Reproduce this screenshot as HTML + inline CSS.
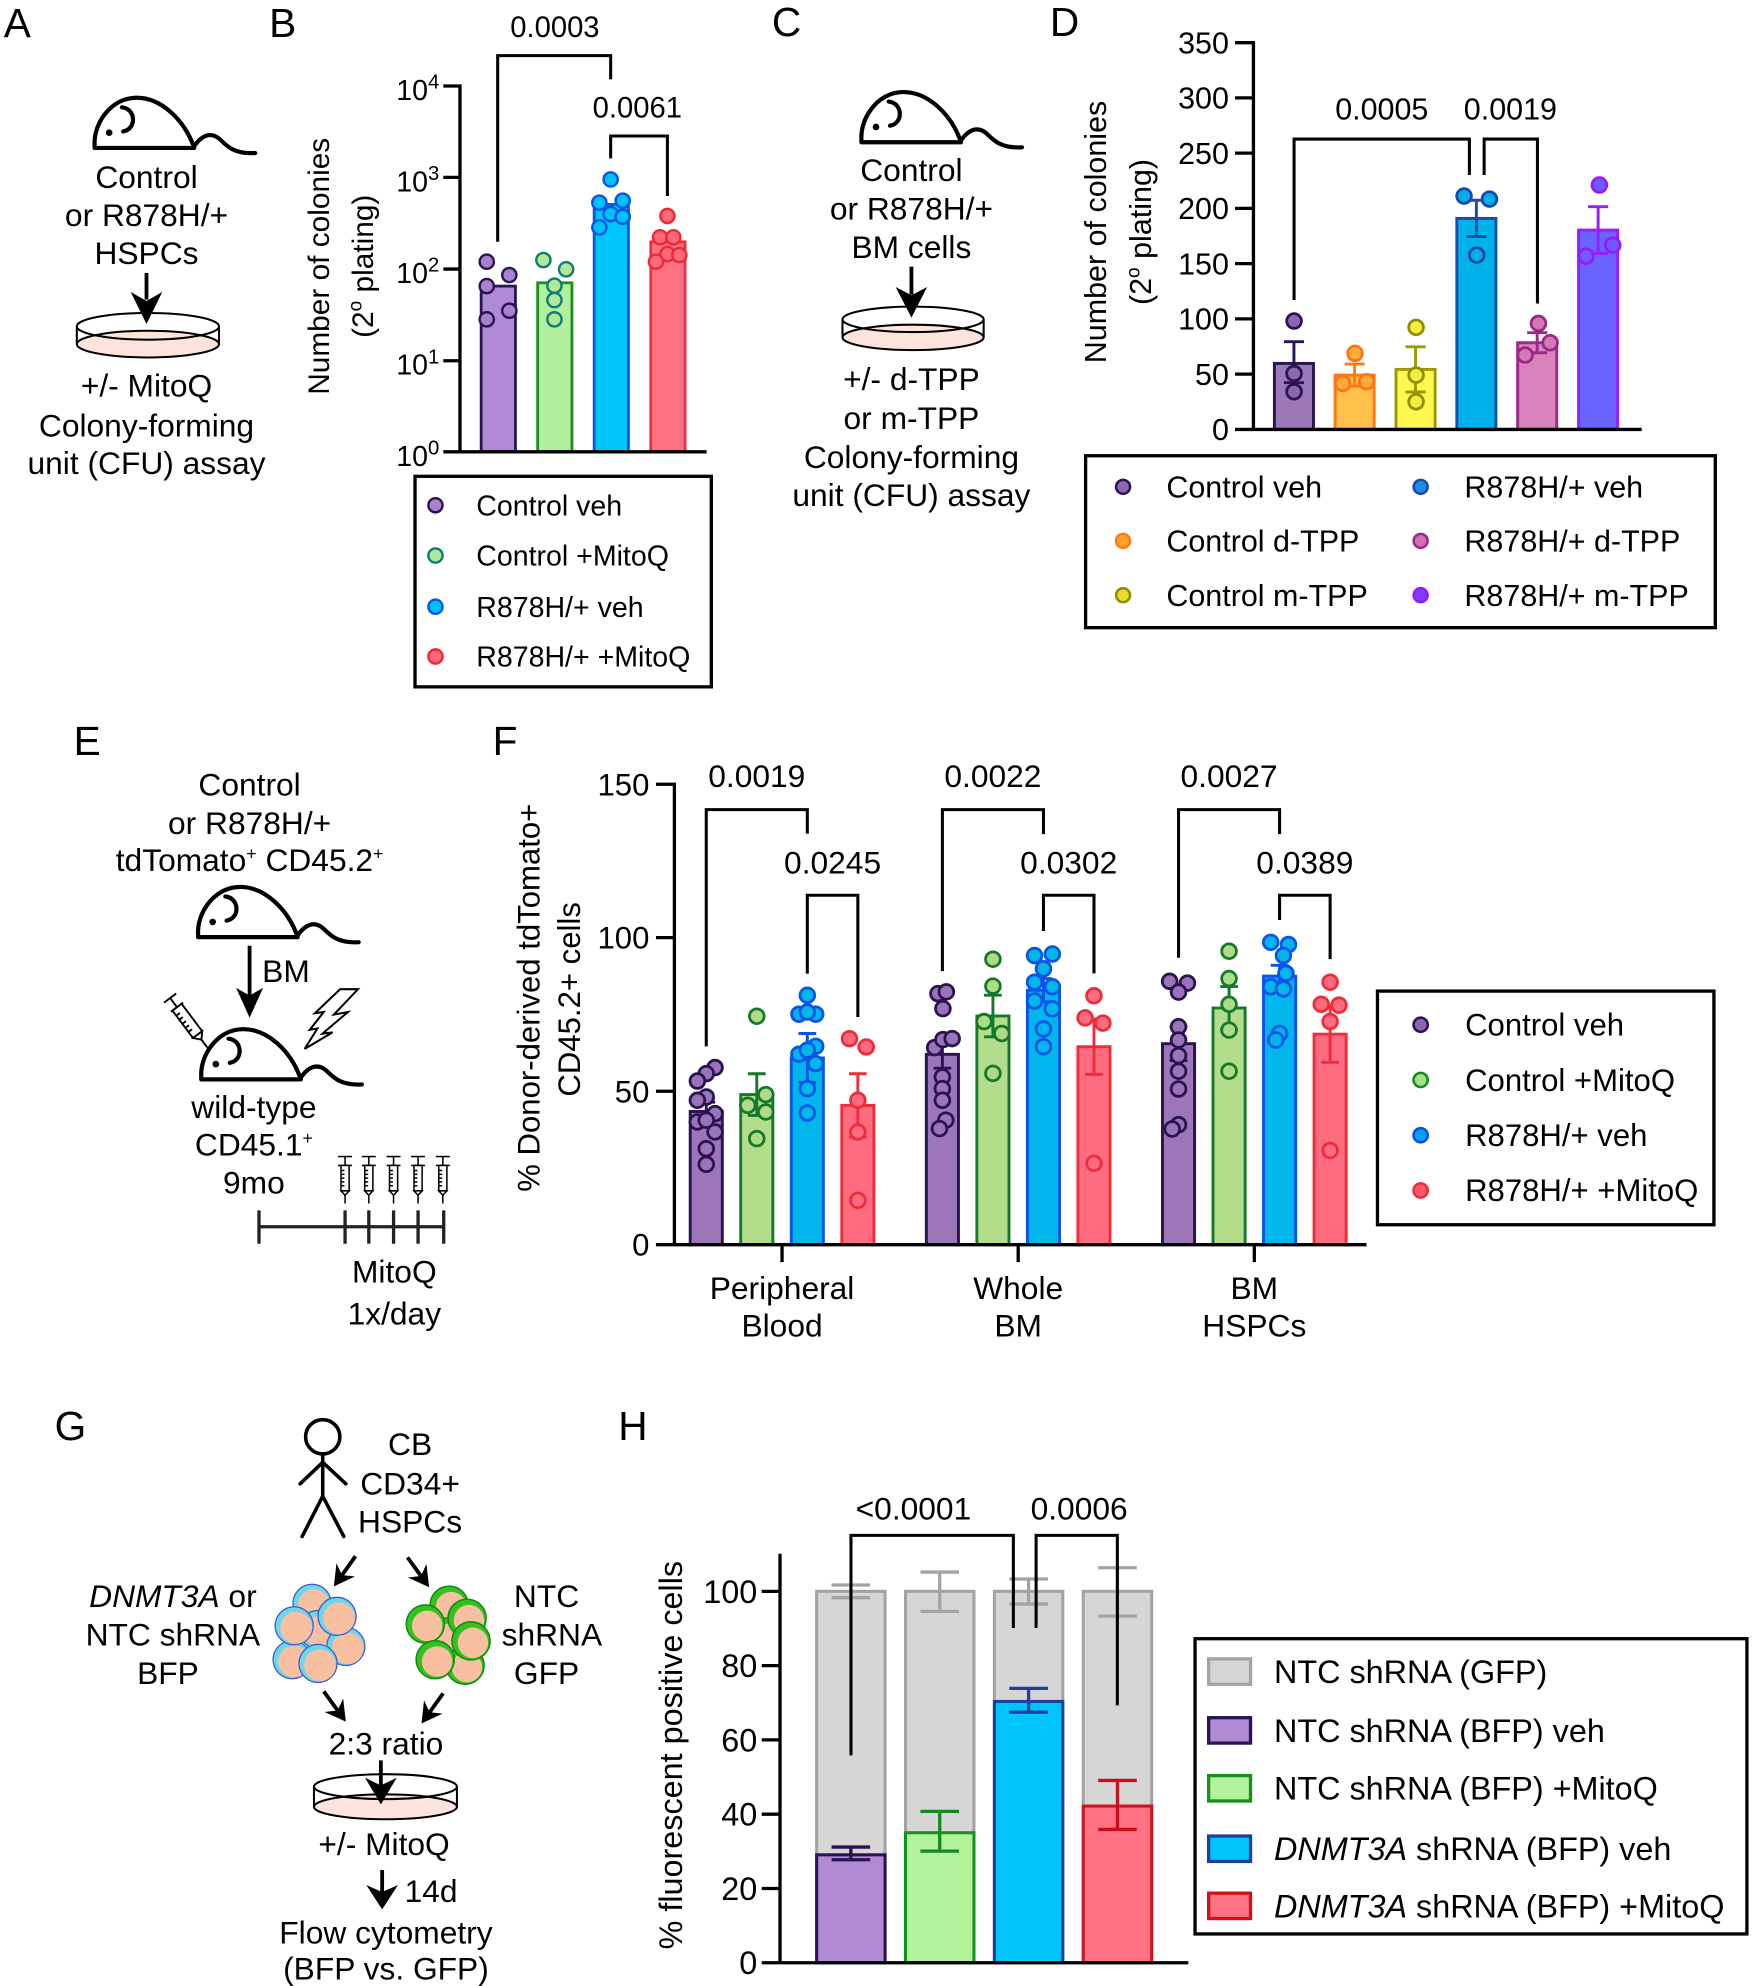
<!DOCTYPE html>
<html><head><meta charset="utf-8">
<style>
html,body{margin:0;padding:0;background:#fff;}
svg{display:block;}
text{font-family:"Liberation Sans",Arial,sans-serif;fill:#000;}
.ax{stroke:#000;stroke-width:2.6;fill:none;stroke-linecap:square;}
.br{stroke:#000;stroke-width:2.4;fill:none;}
.m{text-anchor:middle;}
.e{text-anchor:end;}
</style></head>
<body>
<svg width="1752" height="1986" viewBox="0 0 1380 1564" preserveAspectRatio="none" xmlns="http://www.w3.org/2000/svg">
<defs>
<g id="mouse" fill="none" stroke="#000" stroke-width="3.3" stroke-linejoin="round" stroke-linecap="round">
<path d="M1.5,40 L1.5,35 C2,19 15,1 34,0.5 C53,0 72,17 80,40 Z" fill="#fff"/>
<path d="M23,8 C34,9 35,25 24,27"/>
<circle cx="13" cy="28" r="2.6" fill="#000" stroke="none"/>
<path d="M80,38.5 C86,30 93,27 100,33 C106,39 112,45 128,44"/>
</g>
<g id="syr" fill="none" stroke="#000" stroke-width="1.2">
<line x1="-5.5" y1="0" x2="5.5" y2="0"/>
<line x1="0" y1="0" x2="0" y2="7"/>
<line x1="-5.5" y1="7" x2="5.5" y2="7"/>
<rect x="-3.2" y="7" width="6.4" height="20" fill="#fff"/>
<line x1="-3.2" y1="11" x2="-0.5" y2="11"/><line x1="-3.2" y1="14" x2="-0.5" y2="14"/><line x1="-3.2" y1="17" x2="-0.5" y2="17"/><line x1="-3.2" y1="20" x2="-0.5" y2="20"/><line x1="-3.2" y1="23" x2="-0.5" y2="23"/>
<polygon points="-3.2,27 0,30.5 3.2,27" fill="#fff"/>
<line x1="0" y1="30.5" x2="0" y2="37"/>
</g>
</defs>

<!-- ================= A ================= -->
<text x="3" y="29" font-size="32">A</text>
<use href="#mouse" transform="translate(73,76.5)"/>
<g font-size="25" class="m">
<text x="115.4" y="148" class="m">Control</text>
<text x="115.4" y="178" class="m">or R878H/+</text>
<text x="115.4" y="208" class="m">HSPCs</text>
<text x="115.4" y="312.4" class="m">+/- MitoQ</text>
<text x="115.4" y="343.9" class="m">Colony-forming</text>
<text x="115.4" y="373.3" class="m">unit (CFU) assay</text>
</g>
<g stroke="#000" stroke-width="1.6">
<ellipse cx="116.5" cy="271" rx="56" ry="10.5" fill="#fce4dc"/>
<line x1="60.5" y1="257" x2="60.5" y2="271"/><line x1="172.5" y1="257" x2="172.5" y2="271"/>
<ellipse cx="116.5" cy="257" rx="56" ry="10.5" fill="none"/>
</g>
<line x1="115.4" y1="215" x2="115.4" y2="236" stroke="#000" stroke-width="3"/>
<polygon points="103,230 115.4,237 127.8,230 115.4,255.2" fill="#000"/>

<!-- ================= B ================= -->
<text x="212" y="29" font-size="32">B</text>
<g font-size="23.5">
<text class="m" transform="rotate(-90 251.1 209.7)" x="251.1" y="209.7" dy="0.35em">Number of colonies</text>
<text class="m" transform="rotate(-90 285.7 209.7)" x="285.7" y="209.7" dy="0.35em">(2<tspan font-size="15" dy="-9">o</tspan><tspan dy="9"> plating)</tspan></text>
</g>
<g font-size="22.5">
<text x="346" y="78.7" class="e">10<tspan font-size="16" dy="-9">4</tspan></text>
<text x="346" y="150.7" class="e">10<tspan font-size="16" dy="-9">3</tspan></text>
<text x="346" y="222.9" class="e">10<tspan font-size="16" dy="-9">2</tspan></text>
<text x="346" y="295.1" class="e">10<tspan font-size="16" dy="-9">1</tspan></text>
<text x="346" y="366.8" class="e">10<tspan font-size="16" dy="-9">0</tspan></text>
</g>
<!-- bars B -->
<g stroke-width="2.2">
<rect x="379" y="225.3" width="27" height="130.5" fill="#b08ad6" stroke="#2b1452"/>
<rect x="423.5" y="222.7" width="27" height="133.1" fill="#b3f09e" stroke="#17921c"/>
<rect x="468" y="161" width="27" height="194.8" fill="#00c5fd" stroke="#0857e0"/>
<rect x="512.6" y="190.4" width="27" height="165.4" fill="#ff7283" stroke="#ec2f3a"/>
</g>
<g stroke-width="1.9">
<g fill="#a882d0" stroke="#2b1452">
<circle cx="383.4" cy="206.1" r="5.6"/><circle cx="401.2" cy="216.6" r="5.6"/><circle cx="383.4" cy="225.3" r="5.6"/><circle cx="401.2" cy="244.7" r="5.6"/><circle cx="383.4" cy="251.5" r="5.6"/>
</g>
<g fill="#b2e89a" stroke="#0d7d78">
<circle cx="428" cy="204.8" r="5.6"/><circle cx="445.9" cy="212.1" r="5.6"/><circle cx="436.7" cy="225" r="5.6"/><circle cx="436.7" cy="236.3" r="5.6"/><circle cx="436.7" cy="251.5" r="5.6"/>
</g>
<g fill="#00c0f8" stroke="#0a55e8">
<circle cx="481" cy="141.3" r="5.6"/><circle cx="472.1" cy="159.6" r="5.6"/><circle cx="490.5" cy="158" r="5.6"/><circle cx="481" cy="168.6" r="5.6"/><circle cx="490.5" cy="170.7" r="5.6"/><circle cx="472.1" cy="179.1" r="5.6"/>
</g>
<g fill="#ff6878" stroke="#ea2b36">
<circle cx="525.7" cy="170.1" r="5.6"/><circle cx="519.9" cy="186.9" r="5.6"/><circle cx="530.4" cy="186.9" r="5.6"/><circle cx="525.7" cy="200.1" r="5.6"/><circle cx="516.7" cy="206.1" r="5.6"/><circle cx="535.1" cy="200.9" r="5.6"/>
</g>
</g>
<path class="ax" d="M362.3,67.7 V355.8 M350.5,67.7 H362.3 M350.5,139.7 H362.3 M350.5,211.9 H362.3 M350.5,284.1 H362.3 M350.5,355.8 H555.3"/>
<polyline class="br" points="392,190.4 392,43.8 481,43.8 481,62.5"/>
<polyline class="br" points="481,124.7 481,107.1 525.7,107.1 525.7,154.4"/>
<text x="437.1" y="29.1" font-size="23" class="m">0.0003</text>
<text x="502" y="92.4" font-size="23" class="m">0.0061</text>
<rect x="326.9" y="375.1" width="233.4" height="165.8" fill="none" stroke="#000" stroke-width="2.6"/>
<g stroke-width="1.9">
<circle cx="343" cy="397.9" r="5.6" fill="#a882d0" stroke="#2b1452"/>
<circle cx="343" cy="437.5" r="5.6" fill="#b2e89a" stroke="#0d7d78"/>
<circle cx="343" cy="477.8" r="5.6" fill="#00c0f8" stroke="#0a55e8"/>
<circle cx="343" cy="517" r="5.6" fill="#ff6878" stroke="#ea2b36"/>
</g>
<g font-size="22.5">
<text x="375.1" y="405.9">Control veh</text>
<text x="375.1" y="445.5">Control +MitoQ</text>
<text x="375.1" y="485.8">R878H/+ veh</text>
<text x="375.1" y="525">R878H/+ +MitoQ</text>
</g>

<!-- ================= C ================= -->
<text x="608" y="28.5" font-size="32">C</text>
<use href="#mouse" transform="translate(677,72)"/>
<g font-size="25">
<text x="717.9" y="142.4" class="m">Control</text>
<text x="717.9" y="172.9" class="m">or R878H/+</text>
<text x="717.9" y="203.1" class="m">BM cells</text>
<text x="717.9" y="307.3" class="m">+/- d-TPP</text>
<text x="717.9" y="337.8" class="m">or m-TPP</text>
<text x="717.9" y="368.7" class="m">Colony-forming</text>
<text x="717.9" y="398.5" class="m">unit (CFU) assay</text>
</g>
<g stroke="#000" stroke-width="1.6">
<ellipse cx="719.2" cy="265.7" rx="55.6" ry="10" fill="#fce4dc"/>
<line x1="663.6" y1="251.5" x2="663.6" y2="265.7"/><line x1="774.8" y1="251.5" x2="774.8" y2="265.7"/>
<ellipse cx="719.2" cy="251.5" rx="55.6" ry="10" fill="none"/>
</g>
<line x1="717.9" y1="210" x2="717.9" y2="232" stroke="#000" stroke-width="3"/>
<polygon points="705.5,226 717.9,232.5 730.3,226 717.9,250.1" fill="#000"/>

<!-- ================= D ================= -->
<text x="827" y="28.5" font-size="32">D</text>
<g font-size="24">
<text class="m" transform="rotate(-90 862.7 182.7)" x="862.7" y="182.7" dy="0.35em">Number of colonies</text>
<text class="m" transform="rotate(-90 898.3 182.7)" x="898.3" y="182.7" dy="0.35em">(2<tspan font-size="15" dy="-9">o</tspan><tspan dy="9"> plating)</tspan></text>
<text x="968" y="42.1" class="e">350</text>
<text x="968" y="85.6" class="e">300</text>
<text x="968" y="129.1" class="e">250</text>
<text x="968" y="172.6" class="e">200</text>
<text x="968" y="216.1" class="e">150</text>
<text x="968" y="259.6" class="e">100</text>
<text x="968" y="303.1" class="e">50</text>
<text x="968" y="346.7" class="e">0</text>
</g>
<g stroke-width="2.3">
<rect x="1003.8" y="286.2" width="30.8" height="52" fill="#9b78b8" stroke="#2b1452"/>
<rect x="1051.6" y="295.4" width="30.8" height="42.8" fill="#ffc04c" stroke="#ff7a10"/>
<rect x="1099.6" y="290.9" width="30.8" height="47.3" fill="#fff850" stroke="#9a9a00"/>
<rect x="1147.5" y="172" width="30.8" height="166.2" fill="#00b2ec" stroke="#1d4aa8"/>
<rect x="1195.4" y="269.9" width="30.8" height="68.3" fill="#d883bb" stroke="#9c2a8a"/>
<rect x="1243.4" y="181.2" width="30.8" height="157" fill="#6764ff" stroke="#9a1cff"/>
</g>
<g stroke-width="2.3" fill="none">
<path d="M1019.2,269.1 V301.4 M1011.3,269.1 H1027.1 M1011.3,301.4 H1027.1" stroke="#2b1452"/>
<path d="M1067,286.7 V304.1 M1059.1,286.7 H1074.9 M1059.1,304.1 H1074.9" stroke="#ff7a10"/>
<path d="M1115,273.1 V308.7 M1107.1,273.1 H1122.9 M1107.1,308.7 H1122.9" stroke="#9a9a00"/>
<path d="M1162.9,157.7 V186.3 M1155,157.7 H1170.8 M1155,186.3 H1170.8" stroke="#1d4aa8"/>
<path d="M1210.8,262 V277.8 M1202.9,262 H1218.7 M1202.9,277.8 H1218.7" stroke="#9c2a8a"/>
<path d="M1258.8,162.8 V199.6 M1250.9,162.8 H1266.7 M1250.9,199.6 H1266.7" stroke="#9a1cff"/>
</g>
<g stroke-width="2.2">
<g fill="#8c68ac" stroke="#2b1452"><circle cx="1019.3" cy="252.8" r="5.8"/><circle cx="1019.3" cy="294.1" r="5.8"/><circle cx="1019.3" cy="308.5" r="5.8"/></g>
<g fill="#ffab3c" stroke="#ff7412"><circle cx="1067.3" cy="278.3" r="5.8"/><circle cx="1057.6" cy="302" r="5.8"/><circle cx="1076.5" cy="300.6" r="5.8"/></g>
<g fill="#f4ec40" stroke="#8f8f00"><circle cx="1115.4" cy="257.8" r="5.8"/><circle cx="1115.4" cy="295.4" r="5.8"/><circle cx="1115.4" cy="316.4" r="5.8"/></g>
<g fill="#00aee8" stroke="#1b48a8"><circle cx="1153.2" cy="154.4" r="5.8"/><circle cx="1173.2" cy="156.8" r="5.8"/><circle cx="1163.2" cy="200.9" r="5.8"/></g>
<g fill="#d27ab6" stroke="#9c2788"><circle cx="1211.8" cy="254.7" r="5.8"/><circle cx="1201.3" cy="279.6" r="5.8"/><circle cx="1221" cy="269.9" r="5.8"/></g>
<g fill="#6a5cff" stroke="#9a18ff"><circle cx="1259.8" cy="145.7" r="5.8"/><circle cx="1249.3" cy="201.7" r="5.8"/><circle cx="1270.3" cy="193" r="5.8"/></g>
</g>
<path class="ax" d="M987.3,33.6 V338.2 M974.1,33.6 H987.3 M974.1,77.1 H987.3 M974.1,120.6 H987.3 M974.1,164.1 H987.3 M974.1,207.6 H987.3 M974.1,251.1 H987.3 M974.1,294.6 H987.3 M974.1,338.2 H1291.8"/>
<polyline class="br" points="1019.3,236.3 1019.3,109.5 1157.4,109.5 1157.4,137.8"/>
<polyline class="br" points="1169,137.8 1169,109.5 1211,109.5 1211,239"/>
<text x="1088.4" y="94" font-size="24" class="m">0.0005</text>
<text x="1189.7" y="94" font-size="24" class="m">0.0019</text>
<rect x="855.1" y="358.9" width="496" height="135.4" fill="none" stroke="#000" stroke-width="2.6"/>
<g stroke-width="2">
<circle cx="884.6" cy="383.4" r="5.5" fill="#8c68ac" stroke="#2b1452"/>
<circle cx="884.6" cy="425.9" r="5.5" fill="#ffa030" stroke="#ff7a10"/>
<circle cx="884.6" cy="468.7" r="5.5" fill="#e4dc30" stroke="#8f8f00"/>
<circle cx="1119" cy="383.4" r="5.5" fill="#1a8fe0" stroke="#1b48a8"/>
<circle cx="1119" cy="425.9" r="5.5" fill="#d070b0" stroke="#9c2788"/>
<circle cx="1119" cy="468.7" r="5.5" fill="#7a3cff" stroke="#9a18ff"/>
</g>
<g font-size="24">
<text x="918.7" y="391.9">Control veh</text>
<text x="918.7" y="434.4">Control d-TPP</text>
<text x="918.7" y="477.2">Control m-TPP</text>
<text x="1153.5" y="391.9">R878H/+ veh</text>
<text x="1153.5" y="434.4">R878H/+ d-TPP</text>
<text x="1153.5" y="477.2">R878H/+ m-TPP</text>
</g>

<!-- ================= E ================= -->
<text x="58" y="594.7" font-size="32">E</text>
<g font-size="25">
<text x="196.6" y="626.4" class="m">Control</text>
<text x="196.6" y="656.8" class="m">or R878H/+</text>
<text x="196.6" y="685.9" class="m">tdTomato<tspan font-size="14" dy="-9">+</tspan><tspan dy="9"> CD45.2</tspan><tspan font-size="14" dy="-9">+</tspan></text>
<text x="206.5" y="773.5">BM</text>
<text x="200" y="880.3" class="m">wild-type</text>
<text x="200" y="910.1" class="m">CD45.1<tspan font-size="14" dy="-9">+</tspan></text>
<text x="200" y="939.9" class="m">9mo</text>
<text x="310.6" y="1010" class="m">MitoQ</text>
<text x="310.6" y="1043.2" class="m">1x/day</text>
</g>
<use href="#mouse" transform="translate(154.5,698)"/>
<use href="#mouse" transform="translate(157,810)"/>
<line x1="196.6" y1="744.8" x2="196.6" y2="784" stroke="#000" stroke-width="3"/>
<polygon points="186,778 196.6,784 207.2,778 196.6,801.5" fill="#000"/>
<!-- diagonal syringe -->
<g transform="translate(134,786) rotate(53)" fill="none" stroke="#000" stroke-width="1.5">
<line x1="0" y1="-6" x2="0" y2="6"/>
<line x1="0" y1="0" x2="9" y2="0"/>
<line x1="9" y1="-6" x2="9" y2="6"/>
<rect x="9" y="-4.5" width="27" height="9" fill="#fff"/>
<line x1="14" y1="1" x2="14" y2="4.5"/><line x1="18" y1="1" x2="18" y2="4.5"/><line x1="22" y1="1" x2="22" y2="4.5"/><line x1="26" y1="1" x2="26" y2="4.5"/><line x1="30" y1="1" x2="30" y2="4.5"/>
<polygon points="36,-4.5 41,0 36,4.5" fill="#fff"/>
<line x1="41" y1="0" x2="50" y2="0"/>
</g>
<!-- lightning -->
<polygon points="268,779 282,779 263,799 274,797 254,814 262,813 240,826 250,810 244,811 255,797 248,798" fill="#fff" stroke="#000" stroke-width="1.6" stroke-linejoin="miter"/>
<!-- syringes on timeline -->
<use href="#syr" transform="translate(271.8,910.8)"/>
<use href="#syr" transform="translate(290.5,910.8)"/>
<use href="#syr" transform="translate(310,910.8)"/>
<use href="#syr" transform="translate(329.3,910.8)"/>
<use href="#syr" transform="translate(348.8,910.8)"/>
<path d="M204,966.1 H349.5 M204,953.2 V979.5 M271.8,953.2 V979.5 M290.5,953.2 V979.5 M310,953.2 V979.5 M329.3,953.2 V979.5 M349.5,953.2 V979.5" stroke="#222" stroke-width="2.6" fill="none"/>

<!-- ================= F ================= -->
<text x="388" y="594.7" font-size="32">F</text>
<g font-size="24.5">
<text class="m" transform="rotate(-90 416.5 785.7)" x="416.5" y="785.7" dy="0.35em">% Donor-derived tdTomato+</text>
<text class="m" transform="rotate(-90 448.3 787)" x="448.3" y="787" dy="0.35em">CD45.2+ cells</text>
<text x="511.5" y="626.3" class="e">150</text>
<text x="511.5" y="747.1" class="e">100</text>
<text x="511.5" y="868.1" class="e">50</text>
<text x="511.5" y="988.9" class="e">0</text>
</g>
<g font-size="25">
<text x="616" y="1023" class="m">Peripheral</text>
<text x="616" y="1052.5" class="m">Blood</text>
<text x="802" y="1023" class="m">Whole</text>
<text x="802" y="1052.5" class="m">BM</text>
<text x="988" y="1023" class="m">BM</text>
<text x="988" y="1052.5" class="m">HSPCs</text>
</g>
<!-- bars F -->
<g stroke-width="2.3">
<g fill="#9d76b9" stroke="#2a1450">
<rect x="543.65" y="875.3" width="25.3" height="104.9"/>
<rect x="729.65" y="830.3" width="25.3" height="149.9"/>
<rect x="915.65" y="821.9" width="25.3" height="158.3"/>
</g>
<g fill="#b3dd8a" stroke="#137a2b">
<rect x="583.45" y="862" width="25.3" height="118.2"/>
<rect x="769.45" y="800.1" width="25.3" height="180.1"/>
<rect x="955.45" y="793.8" width="25.3" height="186.4"/>
</g>
<g fill="#00b6ea" stroke="#0a55e6">
<rect x="623.25" y="833.2" width="25.3" height="147"/>
<rect x="809.25" y="779.8" width="25.3" height="200.4"/>
<rect x="995.25" y="768.7" width="25.3" height="211.5"/>
</g>
<g fill="#ff6b80" stroke="#ec2e3a">
<rect x="663.05" y="870.5" width="25.3" height="109.7"/>
<rect x="849.05" y="824.3" width="25.3" height="155.9"/>
<rect x="1035.05" y="814.4" width="25.3" height="165.8"/>
</g>
</g>
<!-- error bars F -->
<g stroke-width="2.3" fill="none">
<path stroke="#2a1450" d="M556.3,868 V882.5 M549.3,868 H563.3 M549.3,882.5 H563.3 M742.3,819.4 V841.2 M735.3,819.4 H749.3 M735.3,841.2 H749.3 M928.3,808.6 V835.2 M921.3,808.6 H935.3 M921.3,835.2 H935.3"/>
<path stroke="#137a2b" d="M596.1,845.6 V878.4 M589.1,845.6 H603.1 M589.1,878.4 H603.1 M782.1,783.7 V816.5 M775.1,783.7 H789.1 M775.1,816.5 H789.1 M968.1,776.9 V810.7 M961.1,776.9 H975.1 M961.1,810.7 H975.1"/>
<path stroke="#0a55e6" d="M635.9,813.9 V852.5 M628.9,813.9 H642.9 M628.9,852.5 H642.9 M821.9,770.6 V789 M814.9,770.6 H828.9 M814.9,789 H828.9 M1007.9,760.2 V777.2 M1000.9,760.2 H1014.9 M1000.9,777.2 H1014.9"/>
<path stroke="#ec2e3a" d="M675.7,845.6 V895.4 M668.7,845.6 H682.7 M668.7,895.4 H682.7 M861.7,802.5 V846.1 M854.7,802.5 H868.7 M854.7,846.1 H868.7 M1047.7,792.2 V836.6 M1040.7,792.2 H1054.7 M1040.7,836.6 H1054.7"/>
</g>
<!-- points F -->
<g stroke-width="2.2">
<g fill="#9a74b8" stroke="#2a1450">
<circle cx="563.2" cy="840.7" r="5.8"/><circle cx="556.3" cy="845.5" r="5.8"/><circle cx="549.3" cy="851.3" r="5.8"/><circle cx="556.3" cy="863.9" r="5.8"/><circle cx="549.3" cy="866.5" r="5.8"/><circle cx="563.2" cy="877" r="5.8"/><circle cx="549.3" cy="883.5" r="5.8"/><circle cx="556.3" cy="882.2" r="5.8"/><circle cx="563.2" cy="891.4" r="5.8"/><circle cx="556.3" cy="904.6" r="5.8"/><circle cx="556.3" cy="916.9" r="5.8"/>
<circle cx="738.8" cy="782.5" r="5.8"/><circle cx="745.4" cy="781.1" r="5.8"/><circle cx="742.7" cy="794.3" r="5.8"/><circle cx="736.2" cy="825" r="5.8"/><circle cx="742.7" cy="818.7" r="5.8"/><circle cx="750" cy="817.9" r="5.8"/><circle cx="742.3" cy="848.1" r="5.8"/><circle cx="742.3" cy="857.3" r="5.8"/><circle cx="742.3" cy="866.5" r="5.8"/><circle cx="745" cy="882.2" r="5.8"/><circle cx="740" cy="888.8" r="5.8"/>
<circle cx="921.3" cy="772.8" r="5.8"/><circle cx="935.3" cy="774.2" r="5.8"/><circle cx="928.3" cy="781.3" r="5.8"/><circle cx="928.3" cy="808.6" r="5.8"/><circle cx="928.3" cy="819" r="5.8"/><circle cx="928.3" cy="831.3" r="5.8"/><circle cx="928.3" cy="843.6" r="5.8"/><circle cx="928.3" cy="857.6" r="5.8"/><circle cx="928.3" cy="885.7" r="5.8"/><circle cx="923.3" cy="889.1" r="5.8"/>
</g>
<g fill="#b0da86" stroke="#137a2b">
<circle cx="596.1" cy="800.3" r="5.8"/><circle cx="603.2" cy="862" r="5.8"/><circle cx="589" cy="870.5" r="5.8"/><circle cx="603.2" cy="875.7" r="5.8"/><circle cx="596.1" cy="896.7" r="5.8"/>
<circle cx="782.1" cy="755.4" r="5.8"/><circle cx="782.1" cy="776.6" r="5.8"/><circle cx="775.1" cy="804.5" r="5.8"/><circle cx="789.1" cy="813.9" r="5.8"/><circle cx="782.1" cy="845.3" r="5.8"/>
<circle cx="968.1" cy="749.1" r="5.8"/><circle cx="968.1" cy="770.6" r="5.8"/><circle cx="968.1" cy="790.9" r="5.8"/><circle cx="968.1" cy="811.2" r="5.8"/><circle cx="968.1" cy="843.6" r="5.8"/>
</g>
<g fill="#00b6ea" stroke="#0a55e6">
<circle cx="635.9" cy="783.8" r="5.8"/><circle cx="629.3" cy="798.7" r="5.8"/><circle cx="642.5" cy="798.7" r="5.8"/><circle cx="635.9" cy="797" r="5.8"/><circle cx="642.5" cy="824" r="5.8"/><circle cx="629.3" cy="830.2" r="5.8"/><circle cx="635.9" cy="827" r="5.8"/><circle cx="642.5" cy="837.6" r="5.8"/><circle cx="635.9" cy="857.3" r="5.8"/><circle cx="635.9" cy="876.5" r="5.8"/>
<circle cx="814.9" cy="752.5" r="5.8"/><circle cx="828.9" cy="751.3" r="5.8"/><circle cx="821.9" cy="762.9" r="5.8"/><circle cx="814.9" cy="773.5" r="5.8"/><circle cx="828.9" cy="777.1" r="5.8"/><circle cx="814.9" cy="788.3" r="5.8"/><circle cx="828.9" cy="794.5" r="5.8"/><circle cx="821.9" cy="810.3" r="5.8"/><circle cx="821.9" cy="824.3" r="5.8"/>
<circle cx="1000.9" cy="742.1" r="5.8"/><circle cx="1014.9" cy="743.8" r="5.8"/><circle cx="1010.9" cy="752.5" r="5.8"/><circle cx="1012.9" cy="766.5" r="5.8"/><circle cx="1000.9" cy="777.1" r="5.8"/><circle cx="1010.9" cy="778.8" r="5.8"/><circle cx="1007.9" cy="813.9" r="5.8"/><circle cx="1004.9" cy="819" r="5.8"/>
</g>
<g fill="#ff6b80" stroke="#ec2e3a">
<circle cx="669.1" cy="818" r="5.8"/><circle cx="682.3" cy="824.5" r="5.8"/><circle cx="675.7" cy="866.5" r="5.8"/><circle cx="675.7" cy="891.5" r="5.8"/><circle cx="675.7" cy="945.3" r="5.8"/>
<circle cx="861.7" cy="784.2" r="5.8"/><circle cx="854.7" cy="801.6" r="5.8"/><circle cx="868.7" cy="805.7" r="5.8"/><circle cx="861.7" cy="916.1" r="5.8"/>
<circle cx="1047.7" cy="773.5" r="5.8"/><circle cx="1040.7" cy="790.9" r="5.8"/><circle cx="1054.7" cy="791.6" r="5.8"/><circle cx="1047.7" cy="804.5" r="5.8"/><circle cx="1047.7" cy="906" r="5.8"/>
</g>
</g>
<path class="ax" d="M531.2,617.6 V980.2 M518,617.6 H531.2 M518,738.4 H531.2 M518,859.4 H531.2 M518,980.2 H1075 M616,980.2 V992.6 M802,980.2 V992.6 M988,980.2 V992.6"/>
<polyline class="br" points="556.3,824 556.3,637.6 635.9,637.6 635.9,656.5"/>
<polyline class="br" points="635.9,766.7 635.9,705 675.7,705 675.7,800.9"/>
<polyline class="br" points="742.3,764.8 742.3,637.6 821.9,637.6 821.9,656.9"/>
<polyline class="br" points="821.9,733.2 821.9,705 861.7,705 861.7,766.5"/>
<polyline class="br" points="928.3,754.2 928.3,637.6 1007.9,637.6 1007.9,656.9"/>
<polyline class="br" points="1007.9,724.5 1007.9,705 1047.7,705 1047.7,755.3"/>
<g font-size="25">
<text x="596.1" y="619.7" class="m">0.0019</text>
<text x="655.8" y="688" class="m">0.0245</text>
<text x="782.1" y="619.7" class="m">0.0022</text>
<text x="841.8" y="688" class="m">0.0302</text>
<text x="968.1" y="619.7" class="m">0.0027</text>
<text x="1027.8" y="688" class="m">0.0389</text>
</g>
<rect x="1085" y="780.5" width="265" height="184" fill="none" stroke="#000" stroke-width="2.6"/>
<g stroke-width="2">
<circle cx="1119" cy="807" r="5.6" fill="#8b66ab" stroke="#2a1450"/>
<circle cx="1119" cy="850.5" r="5.6" fill="#a8dc88" stroke="#128a28"/>
<circle cx="1119" cy="894" r="5.6" fill="#0aa0f0" stroke="#0a4ee6"/>
<circle cx="1119" cy="937.5" r="5.6" fill="#ff5a6a" stroke="#ee2a36"/>
</g>
<g font-size="24.5">
<text x="1154" y="815.5">Control veh</text>
<text x="1154" y="859">Control +MitoQ</text>
<text x="1154" y="902.5">R878H/+ veh</text>
<text x="1154" y="946">R878H/+ +MitoQ</text>
</g>

<!-- ================= G ================= -->
<text x="43" y="1134" font-size="32">G</text>
<g fill="none" stroke="#000" stroke-width="2.8" stroke-linecap="round" stroke-linejoin="round">
<circle cx="254.2" cy="1131.5" r="13.5"/>
<line x1="254.2" y1="1145" x2="254.2" y2="1178.3"/>
<polyline points="236.4,1168.5 254.2,1151.6 272.4,1168.5"/>
<polyline points="238,1210 254.2,1178.3 270.8,1210"/>
</g>
<g font-size="25">
<text x="323" y="1146" class="m">CB</text>
<text x="323" y="1177" class="m">CD34+</text>
<text x="323" y="1207" class="m">HSPCs</text>
<text x="136.2" y="1265.5" class="m"><tspan font-style="italic">DNMT3A</tspan> or</text>
<text x="136.2" y="1295.7" class="m">NTC shRNA</text>
<text x="132.3" y="1326.2" class="m">BFP</text>
<text x="430.5" y="1265.5" class="m">NTC</text>
<text x="434.7" y="1295.7" class="m">shRNA</text>
<text x="430.5" y="1326.2" class="m">GFP</text>
<text x="304" y="1381.5" class="m">2:3 ratio</text>
<text x="302.5" y="1460.8" class="m">+/- MitoQ</text>
<text x="318.7" y="1497.8">14d</text>
<text x="304" y="1530.4" class="m">Flow cytometry</text>
<text x="304" y="1559" class="m">(BFP vs. GFP)</text>
</g>
<!-- arrows G -->
<g stroke="#000" stroke-width="3" fill="#000">
<line x1="280" y1="1225.6" x2="269.4" y2="1240.4"/>
<polygon points="279.6,1241.5 269.4,1240.4 265,1231.1 263,1249.3" stroke="none"/>
<line x1="321" y1="1226.5" x2="331.6" y2="1241.1"/>
<polygon points="321.3,1242.3 331.6,1241.1 335.9,1231.7 338,1250" stroke="none"/>
<line x1="255" y1="1332" x2="265.9" y2="1346.9"/>
<polygon points="255.7,1348.2 265.9,1346.9 270.3,1337.6 272.4,1355.8" stroke="none"/>
<line x1="349" y1="1333.6" x2="338.4" y2="1348.4"/>
<polygon points="348.6,1349.5 338.4,1348.4 334,1339.1 332,1357.3" stroke="none"/>
</g>
<!-- cells left (BFP) -->
<g stroke="#3a5ad0" stroke-width="1">
<g><circle cx="245.8" cy="1262.6" r="15" fill="#6fd6ea"/><circle cx="247.3" cy="1264.1" r="12.5" fill="#f8c0a0" stroke="none"/></g>
<g><circle cx="250.5" cy="1283.3" r="15" fill="#6fd6ea"/><circle cx="252" cy="1284.8" r="12.5" fill="#f8c0a0" stroke="none"/></g>
<g><circle cx="272.4" cy="1296.6" r="15" fill="#6fd6ea"/><circle cx="273.9" cy="1298.1" r="12.5" fill="#f8c0a0" stroke="none"/></g>
<g><circle cx="230.1" cy="1307" r="15" fill="#6fd6ea"/><circle cx="231.6" cy="1308.5" r="12.5" fill="#f8c0a0" stroke="none"/></g>
<g><circle cx="265.5" cy="1272.9" r="15" fill="#6fd6ea"/><circle cx="267" cy="1274.4" r="12.5" fill="#f8c0a0" stroke="none"/></g>
<g><circle cx="231.7" cy="1280.3" r="15" fill="#6fd6ea"/><circle cx="233.2" cy="1281.8" r="12.5" fill="#f8c0a0" stroke="none"/></g>
<g><circle cx="250.5" cy="1310" r="15" fill="#6fd6ea"/><circle cx="252" cy="1311.5" r="12.5" fill="#f8c0a0" stroke="none"/></g>
</g>
<!-- cells right (GFP) -->
<g stroke="#138a10" stroke-width="1.2">
<g><circle cx="353.8" cy="1264.1" r="15" fill="#33c21e"/><circle cx="355.3" cy="1265.6" r="12" fill="#f8c0a0" stroke="none"/></g>
<g><circle cx="352.2" cy="1289.2" r="15" fill="#33c21e"/><circle cx="353.7" cy="1290.7" r="12" fill="#f8c0a0" stroke="none"/></g>
<g><circle cx="366.3" cy="1311.4" r="15" fill="#33c21e"/><circle cx="367.8" cy="1312.9" r="12" fill="#f8c0a0" stroke="none"/></g>
<g><circle cx="335" cy="1278.9" r="15" fill="#33c21e"/><circle cx="336.5" cy="1280.4" r="12" fill="#f8c0a0" stroke="none"/></g>
<g><circle cx="367.9" cy="1274.4" r="15" fill="#33c21e"/><circle cx="369.4" cy="1275.9" r="12" fill="#f8c0a0" stroke="none"/></g>
<g><circle cx="371" cy="1292.2" r="15" fill="#33c21e"/><circle cx="372.5" cy="1293.7" r="12" fill="#f8c0a0" stroke="none"/></g>
<g><circle cx="342.8" cy="1307" r="15" fill="#33c21e"/><circle cx="344.3" cy="1308.5" r="12" fill="#f8c0a0" stroke="none"/></g>
</g>
<g stroke="#000" stroke-width="1.6">
<ellipse cx="303.6" cy="1422.9" rx="56.3" ry="9.8" fill="#fce4dc"/>
<line x1="247.3" y1="1407" x2="247.3" y2="1422.9"/><line x1="359.9" y1="1407" x2="359.9" y2="1422.9"/>
<ellipse cx="303.6" cy="1407" rx="56.3" ry="9.8" fill="none"/>
</g>
<line x1="300" y1="1386.3" x2="300" y2="1406" stroke="#000" stroke-width="3"/>
<polygon points="287.5,1400 300,1406 312.5,1400 300,1421" fill="#000"/>
<line x1="301" y1="1472.7" x2="301" y2="1490" stroke="#000" stroke-width="3"/>
<polygon points="288.5,1484.5 301,1490 313.5,1484.5 301,1503.7" fill="#000"/>

<!-- ================= H ================= -->
<text x="487" y="1134" font-size="32">H</text>
<g font-size="25.5">
<text class="m" transform="rotate(-90 528.1 1382.2)" x="528.1" y="1382.2" dy="0.35em">% fluorescent positive cells</text>
<text x="596.5" y="1262.3" class="e">100</text>
<text x="596.5" y="1320.7" class="e">80</text>
<text x="596.5" y="1379.2" class="e">60</text>
<text x="596.5" y="1437.7" class="e">40</text>
<text x="596.5" y="1496.2" class="e">20</text>
<text x="596.5" y="1554.7" class="e">0</text>
</g>
<g stroke-width="2.4">
<g fill="#d6d6d6" stroke="#a3a3a3">
<rect x="643.25" y="1253.2" width="53.9" height="292.5"/>
<rect x="713.25" y="1253.2" width="53.9" height="292.5"/>
<rect x="783.25" y="1253.2" width="53.9" height="292.5"/>
<rect x="853.25" y="1253.2" width="53.9" height="292.5"/>
</g>
<rect x="643.25" y="1460.7" width="53.9" height="85" fill="#b18ad6" stroke="#2a1450"/>
<rect x="713.25" y="1443.3" width="53.9" height="102.4" fill="#b3f29b" stroke="#14921c"/>
<rect x="783.25" y="1339.9" width="53.9" height="205.8" fill="#00c5fd" stroke="#1d3f9e"/>
<rect x="853.25" y="1422.3" width="53.9" height="123.4" fill="#ff7183" stroke="#d0101c"/>
</g>
<g stroke-width="2.6" fill="none">
<path stroke="#a3a3a3" d="M670.2,1248.2 V1258.2 M655,1248.2 H685.4 M655,1258.2 H685.4 M740.2,1238 V1269 M725,1238 H755.4 M725,1269 H755.4 M810.2,1243.5 V1263.2 M795,1243.5 H825.4 M795,1263.2 H825.4 M880.2,1234.6 V1272.7 M865,1234.6 H895.4 M865,1272.7 H895.4"/>
<path stroke="#2a1450" d="M670.2,1454.6 V1464.6 M655,1454.6 H685.4 M655,1464.6 H685.4"/>
<path stroke="#14881c" d="M740.2,1426.5 V1457.8 M725,1426.5 H755.4 M725,1457.8 H755.4"/>
<path stroke="#1d3f9e" d="M810.2,1329.6 V1348.3 M795,1329.6 H825.4 M795,1348.3 H825.4"/>
<path stroke="#c8101c" d="M880.2,1402.1 V1440.7 M865,1402.1 H895.4 M865,1440.7 H895.4"/>
</g>
<path class="ax" d="M614.4,1224.9 V1545.7 M601.3,1253.2 H614.4 M601.3,1311.7 H614.4 M601.3,1370.2 H614.4 M601.3,1428.7 H614.4 M601.3,1487.2 H614.4 M601.3,1545.7 H934.7"/>
<polyline class="br" stroke-width="2.6" points="670.3,1382.4 670.3,1209.1 798.2,1209.1 798.2,1282.1"/>
<polyline class="br" stroke-width="2.6" points="816.1,1282.1 816.1,1209.1 880.1,1209.1 880.1,1343"/>
<text x="719.5" y="1196.8" font-size="25" class="m">&lt;0.0001</text>
<text x="850" y="1196.8" font-size="25" class="m">0.0006</text>
<rect x="941.3" y="1290.5" width="434.7" height="232.5" fill="none" stroke="#000" stroke-width="2.6"/>
<g stroke-width="2.6">
<rect x="952" y="1306.4" width="33" height="20" fill="#d6d6d6" stroke="#a3a3a3"/>
<rect x="952" y="1352.7" width="33" height="20" fill="#b18ad6" stroke="#2a1450"/>
<rect x="952" y="1398.3" width="33" height="20" fill="#b3f29b" stroke="#14921c"/>
<rect x="952" y="1445.9" width="33" height="20" fill="#00c5fd" stroke="#1d3f9e"/>
<rect x="952" y="1490.9" width="33" height="20" fill="#ff7183" stroke="#d0101c"/>
</g>
<g font-size="25.5">
<text x="1003.5" y="1325.4">NTC shRNA (GFP)</text>
<text x="1003.5" y="1371.7">NTC shRNA (BFP) veh</text>
<text x="1003.5" y="1417.3">NTC shRNA (BFP) +MitoQ</text>
<text x="1003.5" y="1464.9"><tspan font-style="italic">DNMT3A</tspan> shRNA (BFP) veh</text>
<text x="1003.5" y="1509.9"><tspan font-style="italic">DNMT3A</tspan> shRNA (BFP) +MitoQ</text>
</g>
</svg>
</body></html>
